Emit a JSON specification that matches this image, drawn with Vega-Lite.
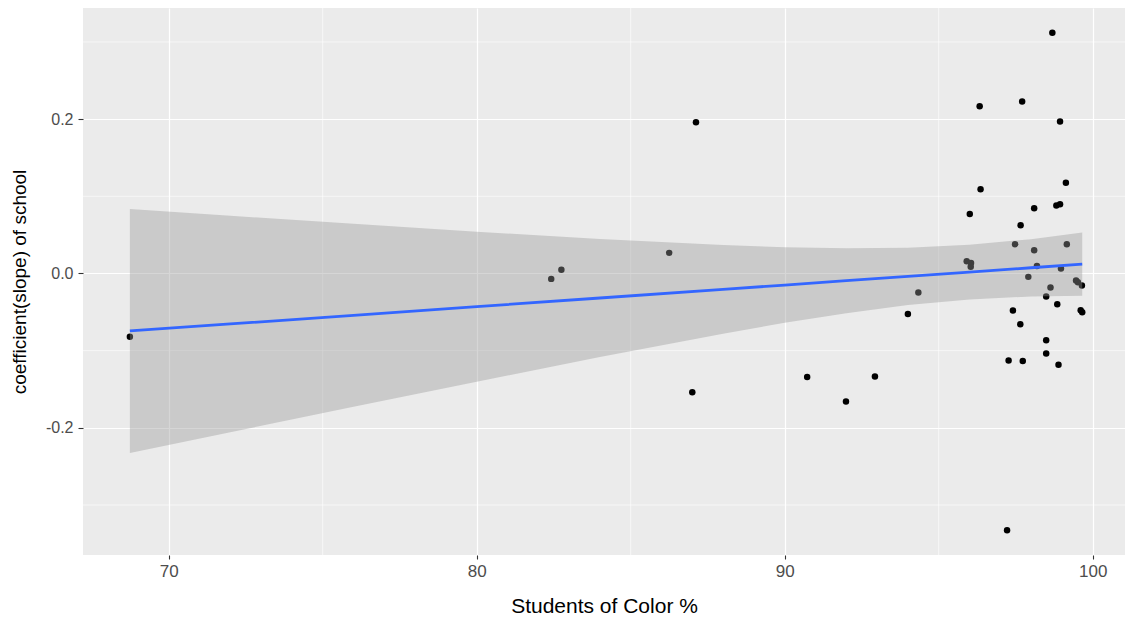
{
  "$schema": "https://vega.github.io/schema/vega-lite/v6.json",
  "width": 1042,
  "height": 547,
  "autosize": {"type": "none"},
  "padding": {"left": 83, "top": 8, "right": 0, "bottom": 63},
  "background": "#FFFFFF",
  "config": {
    "view": {"fill": "#EBEBEB", "stroke": null},
    "font": "Liberation Sans",
    "axis": {
      "gridColor": "#FFFFFF",
      "gridWidth": 1.2,
      "domain": false,
      "tickColor": "#333333",
      "tickWidth": 1.1,
      "labelColor": "#4D4D4D",
      "labelFont": "Liberation Sans",
      "labelFontSize": 16,
      "titleFont": "Liberation Sans",
      "titleFontSize": 19,
      "titleFontWeight": "normal",
      "titleColor": "#000000"
    }
  },
  "datasets": {
    "points": [
      {"soc": 68.74, "coef": -0.082},
      {"soc": 82.42, "coef": -0.007},
      {"soc": 82.75, "coef": 0.0047},
      {"soc": 86.25, "coef": 0.0267},
      {"soc": 87.12, "coef": 0.196},
      {"soc": 87.0, "coef": -0.154},
      {"soc": 90.73, "coef": -0.134},
      {"soc": 91.99, "coef": -0.166},
      {"soc": 92.93, "coef": -0.1335},
      {"soc": 94.0, "coef": -0.0524},
      {"soc": 94.34, "coef": -0.0246},
      {"soc": 96.33, "coef": 0.2168},
      {"soc": 97.71, "coef": 0.2229},
      {"soc": 98.94, "coef": 0.197},
      {"soc": 98.69, "coef": 0.3118},
      {"soc": 96.36, "coef": 0.109},
      {"soc": 99.13, "coef": 0.1177},
      {"soc": 96.01, "coef": 0.0772},
      {"soc": 98.1, "coef": 0.0846},
      {"soc": 98.82, "coef": 0.0881},
      {"soc": 98.94, "coef": 0.0898},
      {"soc": 97.66, "coef": 0.0626},
      {"soc": 97.48, "coef": 0.038},
      {"soc": 98.1, "coef": 0.0302},
      {"soc": 99.16, "coef": 0.038},
      {"soc": 95.91, "coef": 0.0159},
      {"soc": 96.05, "coef": 0.0137},
      {"soc": 96.04, "coef": 0.0086},
      {"soc": 98.19, "coef": 0.0098},
      {"soc": 98.97, "coef": 0.0065},
      {"soc": 97.91, "coef": -0.0044},
      {"soc": 99.46, "coef": -0.0091},
      {"soc": 99.52, "coef": -0.0113},
      {"soc": 99.65, "coef": -0.0156},
      {"soc": 98.63, "coef": -0.0181},
      {"soc": 98.49, "coef": -0.0298},
      {"soc": 98.85, "coef": -0.0398},
      {"soc": 97.41, "coef": -0.0479},
      {"soc": 99.61, "coef": -0.0476},
      {"soc": 99.66, "coef": -0.0501},
      {"soc": 97.65, "coef": -0.0657},
      {"soc": 98.49, "coef": -0.0864},
      {"soc": 98.49, "coef": -0.1037},
      {"soc": 97.27, "coef": -0.1127},
      {"soc": 97.73, "coef": -0.1133},
      {"soc": 98.89, "coef": -0.1184},
      {"soc": 97.22, "coef": -0.3326}
    ],
    "band": [
      {"soc": 68.74, "fit": -0.0745, "lo": -0.2327, "hi": 0.0837},
      {"soc": 72, "fit": -0.0654, "lo": -0.2057, "hi": 0.0749},
      {"soc": 76, "fit": -0.0542, "lo": -0.1727, "hi": 0.0643},
      {"soc": 80, "fit": -0.043, "lo": -0.1402, "hi": 0.0542},
      {"soc": 84, "fit": -0.0318, "lo": -0.1083, "hi": 0.0447},
      {"soc": 88, "fit": -0.0206, "lo": -0.078, "hi": 0.0368},
      {"soc": 90, "fit": -0.015, "lo": -0.064, "hi": 0.034},
      {"soc": 92, "fit": -0.0094, "lo": -0.0514, "hi": 0.0326},
      {"soc": 94, "fit": -0.0038, "lo": -0.0409, "hi": 0.0333},
      {"soc": 96, "fit": 0.0018, "lo": -0.0336, "hi": 0.0372},
      {"soc": 98, "fit": 0.0074, "lo": -0.0297, "hi": 0.0445},
      {"soc": 99.66, "fit": 0.012, "lo": -0.029, "hi": 0.053}
    ],
    "minorX": [{"v": 75}, {"v": 85}, {"v": 95}],
    "minorY": [{"v": -0.3}, {"v": -0.1}, {"v": 0.1}, {"v": 0.3}]
  },
  "layer": [
    {
      "data": {"name": "minorX"},
      "mark": {"type": "rule", "color": "#FFFFFF", "strokeWidth": 0.6},
      "encoding": {
        "x": {"field": "v", "type": "quantitative"}
      }
    },
    {
      "data": {"name": "minorY"},
      "mark": {"type": "rule", "color": "#FFFFFF", "strokeWidth": 0.6},
      "encoding": {
        "y": {"field": "v", "type": "quantitative"}
      }
    },
    {
      "data": {"name": "points"},
      "mark": {"type": "circle", "color": "#000000", "opacity": 1, "size": 42},
      "encoding": {
        "x": {
          "field": "soc", "type": "quantitative",
          "scale": {"domain": [67.218, 101.049], "nice": false, "zero": false},
          "axis": {"values": [70, 80, 90, 100], "format": "d", "title": "Students of Color %", "tickSize": 4, "labelPadding": 4, "labelFontSize": 17, "titleFontSize": 21, "titlePadding": 16}
        },
        "y": {
          "field": "coef", "type": "quantitative",
          "scale": {"domain": [-0.3648, 0.344], "nice": false, "zero": false},
          "axis": {"values": [-0.2, 0, 0.2], "labelExpr": "replace(format(datum.value, '.1f'), '\u2212', '-')", "title": "coefficient(slope) of school", "tickSize": 5, "labelPadding": 5, "titlePadding": 16}
        }
      }
    },
    {
      "data": {"name": "band"},
      "mark": {"type": "area", "color": "#999999", "opacity": 0.4},
      "encoding": {
        "x": {"field": "soc", "type": "quantitative"},
        "y": {"field": "lo", "type": "quantitative"},
        "y2": {"field": "hi"}
      }
    },
    {
      "data": {"name": "band"},
      "mark": {"type": "line", "color": "#3366FF", "strokeWidth": 2.8},
      "encoding": {
        "x": {"field": "soc", "type": "quantitative"},
        "y": {"field": "fit", "type": "quantitative"}
      }
    }
  ]
}
